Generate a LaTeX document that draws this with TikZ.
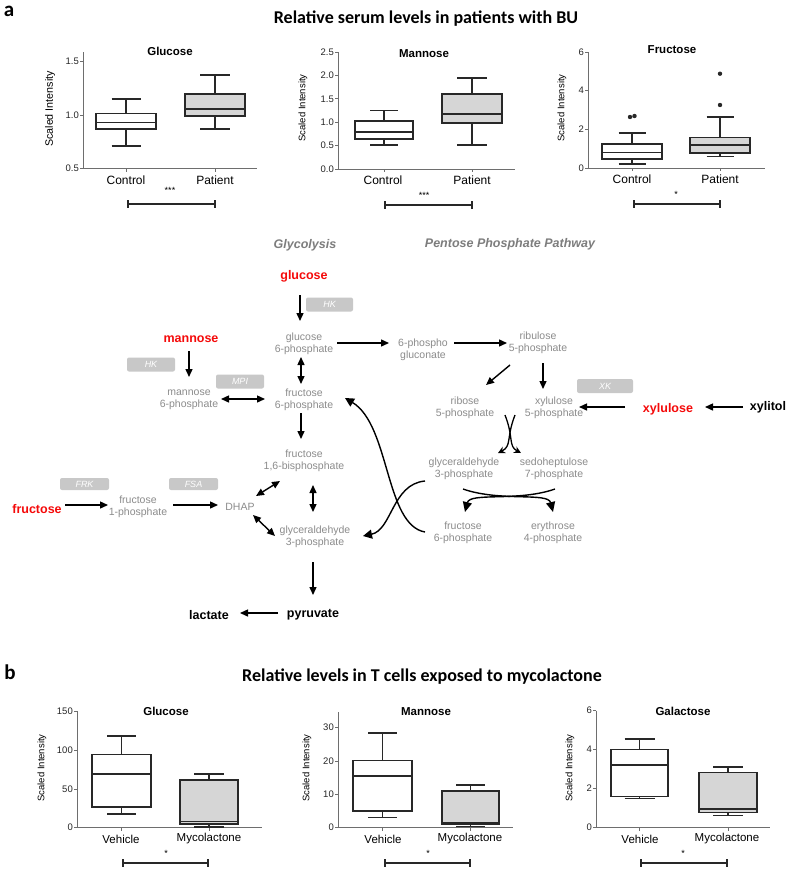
\documentclass[tikz,border=0pt]{standalone}
\usepackage{fontspec}
\setmainfont{Liberation Sans}
\newfontfamily\calib{Carlito}
\usetikzlibrary{arrows.meta,calc}
\definecolor{mgray}{RGB}{140,140,140}
\definecolor{hgray}{RGB}{125,125,125}
\definecolor{sred}{RGB}{245,10,10}
\definecolor{ebox}{RGB}{200,200,200}
\definecolor{bfill}{RGB}{214,214,214}
\definecolor{axc}{RGB}{110,110,110}
\definecolor{bxc}{RGB}{40,40,40}
% box plot: #1 cx, #2 half box width, #3 half cap width, #4 whisker low, #5 q1, #6 median, #7 q3, #8 whisker high, #9 fill
\newcommand{\bxp}[9]{%
  \draw[bxline] (#1,#4) -- (#1,#5) (#1,#7) -- (#1,#8);
  \draw[bxline] ({#1-#3},#4) -- ({#1+#3},#4) ({#1-#3},#8) -- ({#1+#3},#8);
  \filldraw[bxline,fill=#9] ({#1-#2},#5) rectangle ({#1+#2},#7);
  \draw[bxline] ({#1-#2},#6) -- ({#1+#2},#6);
}
\newcommand{\yticksat}[3]{%
  \foreach \yy/\lab [count=\ii] in {#3} {
    \draw[axline] (#2,\yy) -- ({#2-3.5},\yy);
    \node[ticklab,anchor=east] (#1t\ii) at ({#2-4},\yy) {\lab};
  }}
\newcommand{\sigbar}[3]{% #1 x1, #2 x2, #3 y
  \draw[brk] (#1,{#3-4}) -- (#1,{#3+4}) (#1,#3) -- (#2,#3) (#2,{#3-4}) -- (#2,{#3+4});}
\begin{document}
\begin{tikzpicture}[x=1pt,y=-1pt,
  metab/.style={text=mgray,font=\fontsize{10.5}{12}\selectfont,align=center,inner sep=0},
  sugar/.style={text=sred,font=\fontsize{12.5}{14}\selectfont\bfseries,inner sep=0},
  prod/.style={text=black,font=\fontsize{12.5}{14}\selectfont\bfseries,inner sep=0},
  enz/.style={fill=ebox,rounded corners=2pt,text=white,font=\fontsize{9}{10}\selectfont\itshape,inner sep=0,minimum height=14pt},
  hdr/.style={text=hgray,font=\fontsize{12.5}{14}\selectfont\bfseries\itshape,inner sep=0},
  arr/.style={line width=1.4pt,-{Triangle[length=8pt,width=7pt]}},
  darr/.style={line width=1.4pt,{Triangle[length=8pt,width=7pt]}-{Triangle[length=8pt,width=7pt]}},
  carr/.style={line width=1.4pt,-{Triangle[length=9pt,width=9pt]}},
  xarr/.style={line width=1.3pt,-{Stealth[length=7pt,width=7pt]}},
  tarr/.style={line width=1.4pt,-{Triangle[length=10pt,width=9pt]}},
  axline/.style={draw=axc,line width=0.8pt},
  bxline/.style={draw=bxc,line width=1.3pt},
  ticklab/.style={font=\fontsize{9.5}{10}\selectfont,text=black!85,inner sep=0},
  catlab/.style={font=\fontsize{12}{13}\selectfont,inner sep=0},
  catlabb/.style={font=\fontsize{11.5}{13}\selectfont,inner sep=0},
  ptitle/.style={font=\fontsize{11.5}{13}\selectfont\bfseries,inner sep=0},
  ylab/.style={rotate=90,font=\fontsize{9.5}{10}\selectfont,inner sep=0},
  brk/.style={draw=bxc,line width=1.2pt},
  stars/.style={font=\fontsize{9}{10}\selectfont,inner sep=0},
  maintitle/.style={font=\calib\fontsize{18}{20}\selectfont\bfseries,inner sep=0},
  panlab/.style={font=\calib\fontsize{21}{22}\selectfont\bfseries,inner sep=0}]
\useasboundingbox[fill=white] (0,0) rectangle (787,870);

% ---------- panel a ----------
\node[panlab] (pa) at (9,11) {a};
\node[maintitle] (ta) at (426,19) {Relative serum levels in patients with BU};

% Glucose (a)
\draw[axline] (83,52) -- (83,168.3) -- (257,168.3);
\yticksat{ga}{83}{61.7/1.5, 115/1.0, 168.3/0.5}
\draw[axline] (126,168.3) -- (126,171.5) (215,168.3) -- (215,171.5);
\bxp{126}{30}{14.5}{146}{129}{122.3}{113.3}{99}{white}
\bxp{215}{30}{15}{129}{116}{109}{94}{75}{bfill}
\node[ptitle] (gaT) at (170,51) {Glucose};
\node[ylab,font=\fontsize{10.7}{12}\selectfont] (gaY) at (50,109) {Scaled Intensity};
\node[catlab] (gaC) at (126,180) {Control};
\node[catlab] (gaP) at (215,180) {Patient};
\node[stars] (gaS) at (170,190) {***};
\sigbar{128}{215}{204}

% Mannose (a)
\draw[axline] (338,52) -- (338,169) -- (515,169);
\yticksat{ma}{338}{52/2.5, 75.4/2.0, 98.8/1.5, 122.2/1.0, 145.6/0.5, 169/0.0}
\draw[axline] (384,169) -- (384,172.2) (472,169) -- (472,172.2);
\bxp{384}{29}{14}{145}{139}{132}{121}{110.7}{white}
\bxp{472}{30}{15}{145}{123}{114}{94}{78}{bfill}
\node[ptitle] (maT) at (424,54) {Mannose};
\node[ylab] (maY) at (303,108) {Scaled Intensity};
\node[catlab] (maC) at (383,180) {Control};
\node[catlab] (maP) at (472,180) {Patient};
\node[stars] (maS) at (424,195) {***};
\sigbar{385}{472}{205}

% Fructose (a)
\draw[axline] (588,52) -- (588,168) -- (765,168);
\yticksat{fa}{588}{52/6, 90.7/4, 129.3/2, 168/0}
\draw[axline] (632,168) -- (632,171.2) (720,168) -- (720,171.2);
\bxp{632}{30}{13.5}{164}{159}{152.7}{144}{133}{white}
\bxp{720}{30}{13.5}{156.7}{153}{145}{137.7}{117}{bfill}
\fill[bxc] (630,117) circle (2.2) (634.5,116) circle (2.2) (720,73.7) circle (2.2) (720,105) circle (2.2);
\node[ptitle] (faT) at (672,50) {Fructose};
\node[ylab] (faY) at (562,108) {Scaled Intensity};
\node[catlab] (faC) at (632,179) {Control};
\node[catlab] (faP) at (720,179) {Patient};
\node[stars] (faS) at (676,194) {*};
\sigbar{634}{720}{204}

% ---------- pathway ----------
\node[hdr] (hglyc) at (305,245) {Glycolysis};
\node[hdr] (hppp) at (510,244) {Pentose Phosphate Pathway};

\node[sugar] (glc) at (304,276) {glucose};
\node[sugar] (man) at (191,339) {mannose};
\node[sugar] (fru) at (37,509) {fructose};
\node[sugar] (xyl) at (668,409) {xylulose};
\node[prod] (xylt) at (768,407) {xylitol};
\node[prod] (pyr) at (313,615) {pyruvate};
\node[prod] (lac) at (209,615) {lactate};

\node[metab] (g6p) at (304,344) {glucose\\6-phosphate};
\node[metab] (m6p) at (189,400) {mannose\\6-phosphate};
\node[metab] (f6p) at (304,400) {fructose\\6-phosphate};
\node[metab] (pg6) at (423,350) {6-phospho\\gluconate};
\node[metab] (ru5p) at (538,343) {ribulose\\5-phosphate};
\node[metab] (r5p) at (465,408) {ribose\\5-phosphate};
\node[metab] (xu5p) at (554,408) {xylulose\\5-phosphate};
\node[metab] (f16bp) at (304,461) {fructose\\1,6-bisphosphate};
\node[metab] (f1p) at (138,507) {fructose\\1-phosphate};
\node[metab] (dhap) at (240,507) {DHAP};
\node[metab] (ga3p) at (315,537) {glyceraldehyde\\3-phosphate};
\node[metab] (pga3p) at (464,469) {glyceraldehyde\\3-phosphate};
\node[metab] (s7p) at (554,469) {sedoheptulose\\7-phosphate};
\node[metab] (pf6p) at (463,533) {fructose\\6-phosphate};
\node[metab] (e4p) at (553,533) {erythrose\\4-phosphate};

\node[enz,minimum width=47pt] (ehk1) at (329.5,304.5) {HK};
\node[enz,minimum width=48pt] (ehk2) at (151,364.5) {HK};
\node[enz,minimum width=48pt] (empi) at (240,381.5) {MPI};
\node[enz,minimum width=56pt] (exk) at (605,386) {XK};
\node[enz,minimum width=49pt,minimum height=12pt] (efrk) at (84.5,484) {FRK};
\node[enz,minimum width=49pt,minimum height=12pt] (efsa) at (193.5,484) {FSA};

\draw[arr] ($(glc)+(-4,19)$) -- ($(g6p)+(-4,-23)$);
\draw[arr] ($(man)+(-2,12)$) -- ($(m6p)+(0,-23)$);
\draw[darr] ($(m6p)+(32,-1)$) -- ($(f6p)+(-39,-1)$);
\draw[darr] ($(g6p)+(-3,13)$) -- ($(f6p)+(-3,-16)$);
\draw[arr] ($(g6p)+(33,-1)$) -- ($(pg6)+(-34,-7)$);
\draw[arr] ($(pg6)+(31,-7)$) -- ($(ru5p)+(-31,0)$);
\draw[arr] ($(ru5p)+(-28,22)$) -- ($(r5p)+(21,-23)$);
\draw[arr] ($(ru5p)+(5,20)$) -- ($(xu5p)+(-11,-19)$);
\draw[arr] ($(xyl)+(-43,-2)$) -- ($(xu5p)+(25,-1)$);
\draw[arr] ($(xylt)+(-25,0)$) -- ($(xyl)+(37,-2)$);
\draw[arr] ($(f6p)+(-3,13)$) -- ($(f16bp)+(-3,-22)$);
\draw[arr] ($(fru)+(28,-4)$) -- ($(f1p)+(-30,-2)$);
\draw[arr] ($(f1p)+(35,-2)$) -- ($(dhap)+(-22,-2)$);
\draw[darr] ($(dhap)+(16,-11)$) -- ($(f16bp)+(-24,20)$);
\draw[darr] ($(f16bp)+(9,24)$) -- ($(ga3p)+(-2,-25)$);
\draw[darr] ($(dhap)+(13,8)$) -- ($(ga3p)+(-40,-1)$);
\draw[arr] ($(ga3p)+(-2,25)$) -- ($(pyr)+(0,-20)$);
\draw[arr] ($(pyr)+(-35,-2)$) -- ($(lac)+(31,-2)$);

% PPP back to glycolysis
\draw[carr] ($(pga3p)+(-39,12)$) .. controls (392,484) and (392,530) .. ($(ga3p)+(48,-1)$);
\draw[carr] ($(pf6p)+(-38,-1)$) .. controls (385,525) and (390,425) .. ($(f6p)+(41,-2)$);

% transketolase crossing
\draw[xarr] ($(r5p)+(40,7)$) .. controls (514,438) and (508,446) .. ($(s7p)+(-33,-16)$);
\draw[xarr] ($(xu5p)+(-39,7)$) .. controls (506,438) and (512,446) .. ($(pga3p)+(34,-16)$);

% transaldolase crossing
\draw[tarr] ($(pga3p)+(-1,20)$) .. controls (500,502) and (548,492) .. ($(e4p)+(0,-21)$);
\draw[tarr] ($(s7p)+(1,20)$) .. controls (518,502) and (470,492) .. ($(pf6p)+(2,-21)$);

% ---------- panel b ----------
\node[panlab] (pb) at (10,672) {b};
\node[maintitle] (tb) at (422,677) {Relative levels in T cells exposed to mycolactone};

% Glucose (b)
\draw[axline] (77,711) -- (77,827.7) -- (262,827.7);
\yticksat{gb}{77}{711/150, 750/100, 789/50, 827.7/0}
\draw[axline] (121.5,827.7) -- (121.5,831) (209,827.7) -- (209,831);
\bxp{121.5}{29.5}{14.5}{814}{807}{774}{754.7}{736}{white}
\bxp{209}{29}{15}{827}{824}{821.7}{780}{774}{bfill}
\node[ptitle] (gbT) at (166,711) {Glucose};
\node[ylab] (gbY) at (42,768) {Scaled Intensity};
\node[catlabb] (gbV) at (121,839) {Vehicle};
\node[catlabb] (gbM) at (209,839) {Mycolactone};
\node[stars] (gbS) at (166,853) {*};
\sigbar{123}{208}{863}

% Mannose (b)
\draw[axline] (338,712) -- (338,827.7) -- (513,827.7);
\yticksat{mb}{338}{727.7/30, 761/20, 794.4/10, 827.7/0}
\draw[axline] (382.5,827.7) -- (382.5,831) (470.5,827.7) -- (470.5,831);
\bxp{382.5}{29.5}{14.5}{817.7}{811}{776}{760.7}{733}{white}
\bxp{470.5}{28.5}{14.5}{826.7}{824}{822.7}{791}{785}{bfill}
\node[ptitle] (mbT) at (426,712) {Mannose};
\node[ylab] (mbY) at (307,768) {Scaled Intensity};
\node[catlabb] (mbV) at (383,839) {Vehicle};
\node[catlabb] (mbM) at (470,839) {Mycolactone};
\node[stars] (mbS) at (428,853) {*};
\sigbar{385}{470}{863}

% Galactose (b)
\draw[axline] (596,710.7) -- (596,827.3) -- (770,827.3);
\yticksat{lb}{596}{710.7/6, 749.3/4, 788.3/2, 827.3/0}
\draw[axline] (639.5,827.3) -- (639.5,830.5) (728,827.3) -- (728,830.5);
\bxp{639.5}{28.5}{15}{798.7}{796.7}{765}{749.3}{739}{white}
\bxp{728}{29}{15}{815.7}{812.7}{809}{772.7}{767}{bfill}
\node[ptitle] (lbT) at (683,711) {Galactose};
\node[ylab] (lbY) at (570,768) {Scaled Intensity};
\node[catlabb] (lbV) at (640,839) {Vehicle};
\node[catlabb] (lbM) at (727,839) {Mycolactone};
\node[stars] (lbS) at (683,853) {*};
\sigbar{641}{727}{863}
\end{tikzpicture}
\end{document}
